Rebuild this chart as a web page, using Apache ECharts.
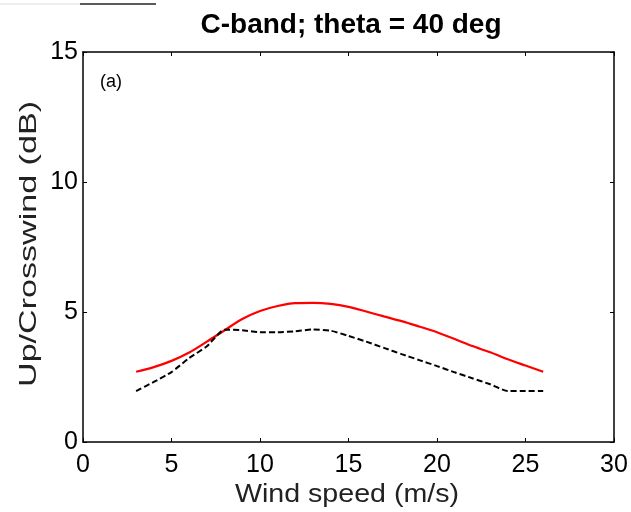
<!DOCTYPE html>
<html>
<head>
<meta charset="utf-8">
<script src="https://cdn.jsdelivr.net/npm/echarts@6/dist/echarts.min.js"></script>
<style>
  html, body { margin: 0; padding: 0; background: #fff; }
  #chart { width: 631px; height: 512px; }
</style>
</head>
<body>
<div id="chart"></div>
<script>
// wind speed (m/s)
const windSpeed = [3, 4, 5, 6, 7, 8, 9, 10, 11, 12, 13, 14, 15, 16, 17, 18, 19, 20, 21, 22, 23, 24, 25, 26]
// up/crosswind ratio (dB), red solid curve
const redCurve = [2.70, 2.88, 3.12, 3.44, 3.86, 4.30, 4.73, 5.04, 5.23, 5.34, 5.35, 5.31, 5.20, 5.02, 4.83, 4.65, 4.44, 4.22, 3.96, 3.69, 3.45, 3.18, 2.94, 2.70]
// black dashed curve
const blackCurve = [1.96, 2.31, 2.69, 3.23, 3.68, 4.32, 4.30, 4.22, 4.22, 4.26, 4.33, 4.28, 4.08, 3.86, 3.62, 3.38, 3.15, 2.92, 2.68, 2.45, 2.22, 1.96, 1.96, 1.96]

const xTicks = [0, 5, 10, 15, 20, 25, 30]
const yTicks = [0, 5, 10, 15]

const font = 'Arial, "Liberation Sans", sans-serif'

function pairs(ys) {
  return windSpeed.map((x, i) => [x, ys[i]])
}

// 外框：上下左右都画轴线，刻度朝内
function boxAxis(pos, isX, ticks, showLabel) {
  return {
    type: 'value',
    position: pos,
    min: ticks[0],
    max: ticks[ticks.length - 1],
    interval: ticks[1] - ticks[0],
    splitLine: { show: false },
    axisLine: { show: true, onZero: false, lineStyle: { color: '#000', width: 1.5 } },
    axisTick: { show: true, inside: true, length: 4, lineStyle: { color: '#000' } },
    axisLabel: {
      show: showLabel,
      color: '#000',
      fontSize: 25,
      fontFamily: font,
      margin: isX ? 11 : 5,
    },
  }
}

const chart = echarts.init(document.getElementById('chart'))

chart.setOption({
  animation: false,
  backgroundColor: '#fff',
  title: {
    text: 'C-band; theta = 40 deg',
    left: 346,
    top: 6,
    textAlign: 'center',
    textStyle: { color: '#000', fontSize: 28, fontWeight: 'bold', fontFamily: font },
  },
  grid: { left: 83, right: 17, top: 52, bottom: 70, containLabel: false, outerBoundsMode: 'none' },
  xAxis: [boxAxis('bottom', true, xTicks, true), boxAxis('top', true, xTicks, false)],
  yAxis: [boxAxis('left', false, yTicks, true), boxAxis('right', false, yTicks, false)],
  graphic: [
    // 轴标题：原图文字被拉伸，用 scale 还原
    {
      type: 'text',
      x: 29,
      y: 244,
      rotation: Math.PI / 2,
      scaleX: 1.42,
      style: {
        text: 'Up/Crosswind (dB)',
        fill: '#222',
        fontSize: 24,
        fontFamily: font,
        align: 'center',
        verticalAlign: 'middle',
      },
    },
    {
      type: 'text',
      x: 347,
      y: 495,
      scaleX: 1.1,
      style: {
        text: 'Wind speed (m/s)',
        fill: '#222',
        fontSize: 26,
        fontFamily: font,
        align: 'center',
        verticalAlign: 'middle',
      },
    },
    {
      type: 'text',
      left: 100,
      top: 73,
      style: { text: '(a)', fill: '#000', fontSize: 18, fontFamily: font },
    },
    {
      type: 'line',
      shape: { x1: 0, y1: 4, x2: 80, y2: 4 },
      style: { stroke: '#ddd', lineWidth: 1 },
    },
    {
      type: 'line',
      shape: { x1: 80, y1: 4, x2: 156, y2: 4 },
      style: { stroke: '#222', lineWidth: 1.5 },
    },
  ],
  series: [
    {
      type: 'line',
      data: pairs(redCurve),
      showSymbol: false,
      smooth: 0.3,
      lineStyle: { color: '#ff0000', width: 2.2 },
    },
    {
      type: 'line',
      data: pairs(blackCurve),
      showSymbol: false,
      smooth: 0.2,
      lineStyle: { color: '#000', width: 2, type: [6, 3] },
    },
  ],
})
</script>
</body>
</html>
